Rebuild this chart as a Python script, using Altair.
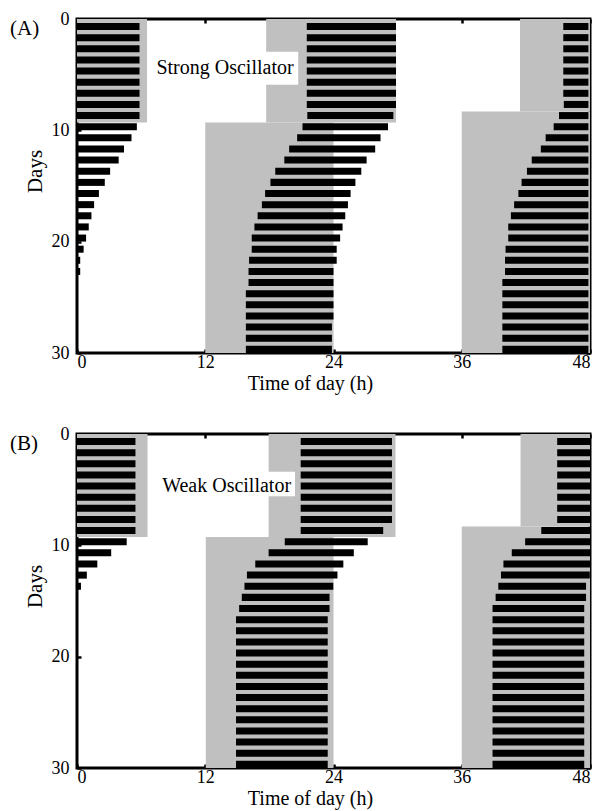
import altair as alt
import pandas as pd

HOUR_TICKS = [0, 12, 24, 36, 48]
DAY_TICKS = [0, 10, 20, 30]
ROWS = list(range(30))
GRAY = "#c0c0c0"
FONT = "Liberation Serif"

# activity onset / offset (hours after the start of each day); day index runs -1 .. 30
A_ONSET = [21.5, 21.5, 21.5, 21.5, 21.5, 21.5, 21.5, 21.5, 21.5, 21.55,
           21.1, 20.6, 19.85, 19.4, 18.55, 18.1, 17.6, 17.3, 16.9, 16.6,
           16.35, 16.35, 16.1, 16.05, 16.05, 15.8, 15.8, 15.8, 15.8, 15.8,
           15.8, 15.8]
A_OFFSET = [29.85, 29.85, 29.85, 29.85, 29.85, 29.85, 29.85, 29.85, 29.85, 29.6,
            29.1, 28.4, 27.9, 27.1, 26.6, 26.05, 25.6, 25.35, 25.1, 24.85,
            24.62, 24.3, 24.3, 24.0, 24.0, 24.0, 24.0, 24.0, 23.85, 23.85,
            23.85, 23.85]
B_ONSET = [20.93, 20.93, 20.93, 20.93, 20.93, 20.93, 20.93, 20.93, 20.93, 20.93,
           19.44, 17.93, 16.68, 15.9, 15.67, 15.42, 15.17, 14.88, 14.88, 14.88,
           14.88, 14.88, 14.88, 14.88, 14.88, 14.88, 14.88, 14.88, 14.88, 14.88,
           14.88, 14.88]
B_OFFSET = [29.47, 29.47, 29.47, 29.47, 29.47, 29.47, 29.47, 29.47, 29.47, 28.65,
            27.2, 25.9, 24.92, 24.37, 23.98, 23.63, 23.63, 23.46, 23.46, 23.46,
            23.46, 23.46, 23.46, 23.46, 23.46, 23.46, 23.46, 23.46, 23.46, 23.46,
            23.46, 23.46]
A_XMAX = 47.85
B_XMAX = 48.0

# light periods (gray): hour start, hour end, day start, day end
A_LIGHT_X1 = [0, 17.7, 12, 41.45, 36]
A_LIGHT_X2 = [6.55, 29.85, 24, 48, 48]
A_LIGHT_Y1 = [0, 0, 9.3, 0, 8.3]
A_LIGHT_Y2 = [9.3, 9.3, 30, 8.3, 30]
B_LIGHT_X1 = [0, 17.93, 12.05, 41.5, 36]
B_LIGHT_X2 = [6.6, 29.8, 24, 48, 48]
B_LIGHT_Y1 = [0, 0, 9.25, 0, 8.3]
B_LIGHT_Y2 = [9.25, 9.25, 30, 8.3, 30]

# annotation boxes
A_NOTE = "Strong Oscillator"
A_NOTE_POS = [13.85, 4.4]
A_BOX = [7.0, 20.7, 2.95, 5.9]
B_NOTE = "Weak Oscillator"
B_NOTE_POS = [14.0, 4.65]
B_BOX = [7.5, 20.4, 3.4, 5.6]


def make_panel(onset, offset, xmax, lx1, lx2, ly1, ly2, note, note_pos, box, tag):
    bars = []
    for r in ROWS:
        for d in (r - 1, r, r + 1):
            k = d + 1
            s = max(24 * (d - r) + onset[k], 0)
            e = min(24 * (d - r) + offset[k], xmax)
            if e > s:
                bars.append({"x1": s, "x2": e, "y1": r + 0.36, "y2": r + 0.99})
    bars = pd.DataFrame(bars)
    light = pd.DataFrame({"x1": lx1, "x2": lx2, "y1": ly1, "y2": ly2})
    boxdf = pd.DataFrame({"x1": [box[0]], "x2": [box[1]], "y1": [box[2]], "y2": [box[3]]})
    notedf = pd.DataFrame({"x": [note_pos[0]], "y": [note_pos[1]], "t": [note]})
    tagdf = pd.DataFrame({"t": [tag]})

    xsc = alt.Scale(domain=[0, 48], nice=False, zero=False)
    ysc = alt.Scale(domain=[0, 30], nice=False, zero=False, reverse=True)

    common = dict(tickSize=4, tickWidth=2.5, tickColor="black", domain=False, grid=False,
                  labelFont=FONT, titleFont=FONT, labelColor="black", titleColor="black",
                  titleFontWeight="normal")
    xaxis = alt.Axis(values=HOUR_TICKS, title="Time of day (h)", orient="bottom",
                     offset=-4, labelPadding=0, titlePadding=2.5, titleX=233,
                     labelFontSize=18, titleFontSize=20, **common)
    yaxis = alt.Axis(values=DAY_TICKS, title="Days", orient="left",
                     offset=-4, labelPadding=8, titlePadding=6, titleY=152,
                     labelFontSize=18, titleFontSize=21, **common)
    xaxis_top = alt.Axis(values=HOUR_TICKS, title=None, orient="top", offset=-4,
                         labels=False, **common)
    yaxis_right = alt.Axis(values=DAY_TICKS, title=None, orient="right", offset=-4,
                           labels=False, **common)

    light_layer = alt.Chart(light).mark_rect(color=GRAY).encode(
        x=alt.X("x1:Q", scale=xsc, axis=xaxis), x2="x2:Q",
        y=alt.Y("y1:Q", scale=ysc, axis=yaxis), y2="y2:Q")
    bar_layer = alt.Chart(bars).mark_rect(color="black").encode(
        x=alt.X("x1:Q", scale=xsc, axis=xaxis_top), x2="x2:Q",
        y=alt.Y("y1:Q", scale=ysc, axis=yaxis_right), y2="y2:Q")
    box_layer = alt.Chart(boxdf).mark_rect(color="white").encode(
        x=alt.X("x1:Q", scale=xsc, axis=None), x2="x2:Q",
        y=alt.Y("y1:Q", scale=ysc, axis=None), y2="y2:Q")
    note_layer = alt.Chart(notedf).mark_text(font=FONT, fontSize=20, color="black",
                                             align="center", baseline="middle").encode(
        x=alt.X("x:Q", scale=xsc, axis=None), y=alt.Y("y:Q", scale=ysc, axis=None), text="t:N")
    tag_layer = alt.Chart(tagdf).mark_text(font=FONT, fontSize=21, color="black",
                                           align="left", baseline="middle").encode(
        x=alt.value(-67), y=alt.value(10), text="t:N")

    return alt.layer(light_layer, bar_layer, box_layer, note_layer, tag_layer).resolve_axis(
        x="independent", y="independent").properties(width=513, height=334)


panel_a = make_panel(A_ONSET, A_OFFSET, A_XMAX, A_LIGHT_X1, A_LIGHT_X2, A_LIGHT_Y1, A_LIGHT_Y2,
                     A_NOTE, A_NOTE_POS, A_BOX, "(A)")
panel_b = make_panel(B_ONSET, B_OFFSET, B_XMAX, B_LIGHT_X1, B_LIGHT_X2, B_LIGHT_Y1, B_LIGHT_Y2,
                     B_NOTE, B_NOTE_POS, B_BOX, "(B)")

chart = alt.vconcat(panel_a, panel_b, spacing=28).properties(
    padding={"left": 0, "top": 0, "right": 0, "bottom": 0}
).configure_view(stroke="black", strokeWidth=3)

chart.save("out.html", embed_options={"renderer": "svg", "actions": False})
